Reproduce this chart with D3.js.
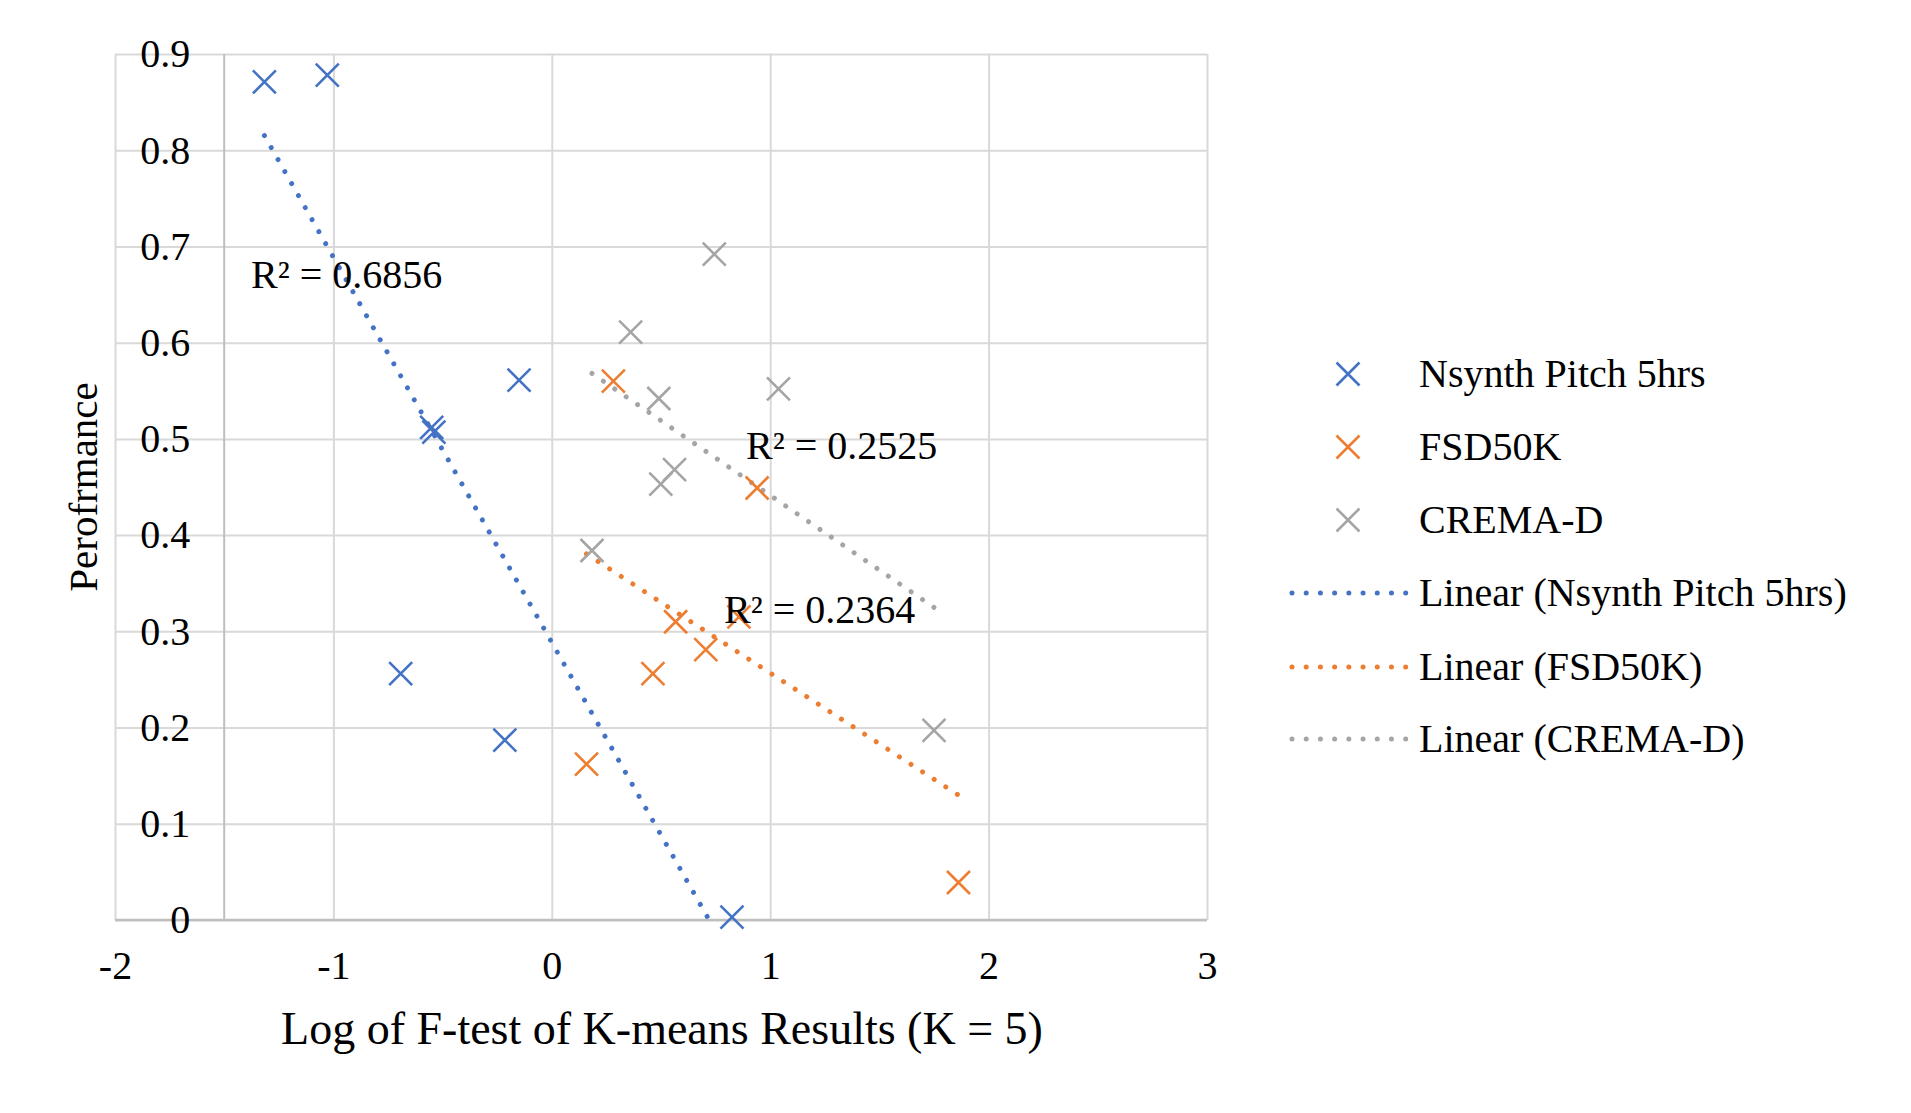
<!DOCTYPE html>
<html>
<head>
<meta charset="utf-8">
<script src="https://cdn.jsdelivr.net/npm/d3@7"></script>
<style>
  body { margin: 0; background: #fff; }
  svg { font-family: "Liberation Serif", "Times New Roman", serif; }
</style>
</head>
<body>
<svg id="chart" width="1911" height="1113"></svg>
<script>
// values
const seriesNames = ['Nsynth Pitch 5hrs', 'FSD50K', 'CREMA-D'];
const seriesColors = ['#4472C4', '#ED7D31', '#A5A5A5'];

const nsynthX = [-1.316, -1.028, -0.150, -0.550, -0.540, -0.692, -0.215, 0.825];
const nsynthY = [0.871, 0.878, 0.561, 0.512, 0.507, 0.256, 0.187, 0.003];

const fsdX = [0.282, 0.940, 0.567, 0.857, 0.705, 0.463, 0.159, 1.862];
const fsdY = [0.560, 0.449, 0.310, 0.315, 0.281, 0.256, 0.162, 0.039];

const cremaX = [0.744, 0.361, 0.490, 1.038, 0.562, 0.499, 0.184, 1.750];
const cremaY = [0.692, 0.611, 0.542, 0.552, 0.468, 0.453, 0.384, 0.197];

const r2Labels = ['R² = 0.6856', 'R² = 0.2364', 'R² = 0.2525'];

const xTicks = [-2, -1, 0, 1, 2, 3];
const yTicks = [0, 0.1, 0.2, 0.3, 0.4, 0.5, 0.6, 0.7, 0.8, 0.9];

const series = [
  { name: seriesNames[0], color: seriesColors[0], xs: nsynthX, ys: nsynthY },
  { name: seriesNames[1], color: seriesColors[1], xs: fsdX, ys: fsdY },
  { name: seriesNames[2], color: seriesColors[2], xs: cremaX, ys: cremaY }
];

const svg = d3.select('#chart');
const margin = { top: 54, right: 704, bottom: 193, left: 115 };
const W = 1911, H = 1113;

const x = d3.scaleLinear().domain([-2, 3]).range([margin.left, W - margin.right]);
const y = d3.scaleLinear().domain([0, 0.9]).range([H - margin.bottom, margin.top]);

// least squares fit
function fit(xs, ys) {
  const mx = d3.mean(xs), my = d3.mean(ys);
  let sxy = 0, sxx = 0;
  xs.forEach((v, i) => { sxy += (v - mx) * (ys[i] - my); sxx += (v - mx) * (v - mx); });
  const b = sxy / sxx;
  return { slope: b, icpt: my - b * mx };
}

svg.append('defs').append('clipPath').attr('id', 'plotClip')
  .append('rect')
    .attr('x', x(-2)).attr('y', y(0.9))
    .attr('width', x(3) - x(-2)).attr('height', y(0) - y(0.9));

// gridlines
svg.append('g')
  .attr('transform', `translate(0,${y(0)})`)
  .call(d3.axisBottom(x).tickValues(xTicks).tickSize(-(y(0) - y(0.9))).tickFormat(''))
  .call(g => g.select('.domain').remove())
  .call(g => g.selectAll('line').attr('stroke', '#D9D9D9').attr('stroke-width', 2));

svg.append('g')
  .attr('transform', `translate(${x(-2)},0)`)
  .call(d3.axisLeft(y).tickValues(yTicks).tickSize(-(x(3) - x(-2))).tickFormat(''))
  .call(g => g.select('.domain').remove())
  .call(g => g.selectAll('line').attr('stroke', '#D9D9D9').attr('stroke-width', 2));

// axis lines (value axis crosses at -1.5)
svg.append('line')
  .attr('x1', x(-1.5)).attr('x2', x(-1.5))
  .attr('y1', y(0.9)).attr('y2', y(0))
  .attr('stroke', '#BFBFBF').attr('stroke-width', 2);
svg.append('line')
  .attr('x1', x(-2)).attr('x2', x(3))
  .attr('y1', y(0)).attr('y2', y(0))
  .attr('stroke', '#BFBFBF').attr('stroke-width', 2.5);

// tick labels (plain hyphen for negatives, as in the original)
svg.append('g')
  .attr('transform', `translate(${x(-1.5)},0)`)
  .call(d3.axisLeft(y).tickValues(yTicks).tickSize(0).tickPadding(34).tickFormat(d => String(d)))
  .call(g => g.select('.domain').remove())
  .call(g => g.selectAll('text').attr('font-size', 40).attr('fill', '#000')
    .attr('font-family', '"Liberation Serif", serif'));

svg.append('g')
  .attr('transform', `translate(0,${y(0)})`)
  .call(d3.axisBottom(x).tickValues(xTicks).tickSize(0).tickPadding(31).tickFormat(d => String(d)))
  .call(g => g.select('.domain').remove())
  .call(g => g.selectAll('text').attr('font-size', 40).attr('fill', '#000')
    .attr('font-family', '"Liberation Serif", serif'));

// axis titles
svg.append('text')
  .attr('x', (x(-2) + x(3)) / 2 + 1).attr('y', 1044)
  .attr('text-anchor', 'middle').attr('font-size', 46)
  .text('Log of F-test of K-means Results (K = 5)');

svg.append('text')
  .attr('transform', `translate(97,${(y(0) + y(0.9)) / 2}) rotate(-90)`)
  .attr('text-anchor', 'middle').attr('font-size', 41)
  .text('Perofrmance');

// trendlines
const trend = svg.append('g').attr('clip-path', 'url(#plotClip)');
series.forEach(s => {
  const f = fit(s.xs, s.ys);
  const x0 = d3.min(s.xs), x1 = d3.max(s.xs);
  trend.append('line')
    .attr('x1', x(x0)).attr('y1', y(f.icpt + f.slope * x0))
    .attr('x2', x(x1)).attr('y2', y(f.icpt + f.slope * x1))
    .attr('stroke', s.color).attr('stroke-width', 5)
    .attr('stroke-linecap', 'round').attr('stroke-dasharray', '0.01 13.8');
});

// markers
function drawX(g, cx, cy, color) {
  const r = 11.5;
  g.append('path')
    .attr('d', `M${cx - r},${cy - r}L${cx + r},${cy + r}M${cx - r},${cy + r}L${cx + r},${cy - r}`)
    .attr('stroke', color).attr('stroke-width', 2.6).attr('fill', 'none');
}
const marks = svg.append('g');
series.forEach(s => {
  s.xs.forEach((v, i) => drawX(marks, x(v), y(s.ys[i]), s.color));
});

// R² labels
const r2Pos = [[251, 288], [724, 623], [746, 459]];
r2Labels.forEach((t, i) => {
  svg.append('text')
    .attr('x', r2Pos[i][0]).attr('y', r2Pos[i][1])
    .attr('font-size', 40).text(t);
});

// legend
const legend = svg.append('g');
const rowY = [374, 447, 520, 593, 667, 739];
series.forEach((s, i) => {
  drawX(legend, 1348, rowY[i], s.color);
  legend.append('text').attr('x', 1419).attr('y', rowY[i] + 13)
    .attr('font-size', 40).text(s.name);
});
series.forEach((s, i) => {
  const yy = rowY[i + 3];
  legend.append('line')
    .attr('x1', 1292).attr('x2', 1406).attr('y1', yy).attr('y2', yy)
    .attr('stroke', s.color).attr('stroke-width', 5)
    .attr('stroke-linecap', 'round').attr('stroke-dasharray', '0.01 14.2');
  legend.append('text').attr('x', 1419).attr('y', yy + 13)
    .attr('font-size', 40).text('Linear (' + s.name + ')');
});
</script>
</body>
</html>
